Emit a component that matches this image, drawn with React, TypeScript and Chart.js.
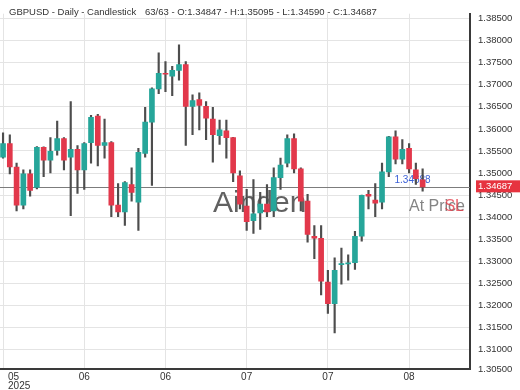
import React, { useEffect, useRef } from 'react';
import { Chart, registerables } from 'chart.js';

Chart.register(...registerables);

const opens = [
  1.35358, 1.35668, 1.35137, 1.34274, 1.34982, 1.34673, 1.3558, 1.35292, 1.35513, 1.35779,
  1.35358, 1.35535, 1.35071, 1.3569, 1.36288, 1.35624, 1.3569, 1.34274, 1.34119, 1.34739,
  1.34341, 1.35447, 1.36155, 1.36907, 1.37261, 1.37195, 1.37327, 1.3746, 1.36509, 1.36664,
  1.36509, 1.36221, 1.35845, 1.35956, 1.35801, 1.34938, 1.34252, 1.3392, 1.34097, 1.34296,
  1.34142, 1.34894, 1.35226, 1.35779, 1.35093, 1.34363, 1.33566, 1.33522, 1.32527, 1.3204,
  1.32925, 1.3294, 1.32969, 1.33566, 1.34518, 1.34385, 1.34341, 1.35027, 1.35823, 1.35314,
  1.35558, 1.35071, 1.34847,
];
const highs = [
  1.35911, 1.35867, 1.35226, 1.35071, 1.35071, 1.35602, 1.35595, 1.35801, 1.36177, 1.35801,
  1.36619, 1.35624, 1.3569, 1.3631, 1.36332, 1.36221, 1.35712, 1.34761, 1.34805, 1.35115,
  1.35558, 1.36487, 1.36929, 1.37726, 1.37527, 1.37416, 1.37903, 1.37527, 1.36774, 1.36819,
  1.36619, 1.36487, 1.36199, 1.36199, 1.3581, 1.35049, 1.34628, 1.3485, 1.34562, 1.34739,
  1.35115, 1.35336, 1.35867, 1.35889, 1.35115, 1.34518, 1.3381, 1.3381, 1.32792, 1.3308,
  1.33301, 1.33146, 1.33677, 1.345, 1.34606, 1.34761, 1.35226, 1.3583, 1.35956, 1.35757,
  1.35668, 1.35226, 1.35095,
];
const lows = [
  1.35336, 1.34982, 1.34142, 1.34186, 1.34473, 1.3464, 1.34916, 1.35004, 1.35403, 1.35071,
  1.34031, 1.3454, 1.34628, 1.35226, 1.35159, 1.35336, 1.34009, 1.34009, 1.3381, 1.34363,
  1.33699, 1.35358, 1.34717, 1.36796, 1.36841, 1.36752, 1.37106, 1.35624, 1.35867, 1.35978,
  1.35757, 1.35248, 1.35646, 1.35336, 1.34805, 1.34186, 1.33699, 1.33633, 1.33721, 1.34009,
  1.34009, 1.34628, 1.35137, 1.35004, 1.34142, 1.33434, 1.33058, 1.32239, 1.31819, 1.31376,
  1.32482, 1.32571, 1.32814, 1.33456, 1.34186, 1.34009, 1.34186, 1.34916, 1.35204, 1.35204,
  1.35004, 1.34739, 1.3459,
];
const closes = [
  1.35668, 1.35137, 1.34274, 1.34982, 1.34606, 1.3558, 1.35292, 1.35491, 1.35779, 1.35292,
  1.35535, 1.35071, 1.35668, 1.36265, 1.35624, 1.3569, 1.34274, 1.34119, 1.34783, 1.34562,
  1.35469, 1.36155, 1.36907, 1.37261, 1.37239, 1.37327, 1.3746, 1.36509, 1.36642, 1.36531,
  1.36243, 1.35867, 1.35978, 1.35801, 1.35004, 1.34296, 1.33898, 1.34075, 1.34296, 1.34119,
  1.34894, 1.35181, 1.35779, 1.35093, 1.34363, 1.33611, 1.33522, 1.32549, 1.3204, 1.32792,
  1.32947, 1.32955, 1.33566, 1.34496, 1.34473, 1.34319, 1.35027, 1.35823, 1.35314, 1.35535,
  1.35093, 1.34872, 1.34687,
];

const xTickIndex = [0, 12, 24, 36, 48, 60];
const xTickLabels = ['05', '06', '06', '07', '07', '08'];
const yearLabel = '2025';

const yMin = 1.30558;
const yMax = 1.38611;
const yTickValues = [
  yMin, 1.31, 1.315, 1.32, 1.325, 1.33, 1.335, 1.34, 1.345, 1.35, 1.355, 1.36, 1.365, 1.37,
  1.375, 1.38, 1.385,
];
const yTickLabels = [
  '1.30500', '1.31000', '1.31500', '1.32000', '1.32500', '1.33000', '1.33500', '1.34000',
  '1.34500', '1.35000', '1.35500', '1.36000', '1.36500', '1.37000', '1.37500', '1.38000',
  '1.38500',
];

const lastPrice = 1.34687;
const markerPrice = 1.34688;
const titleText = 'GBPUSD - Daily - Candlestick';
const infoText = '63/63 - O:1.34847 - H:1.35095 - L:1.34590 - C:1.34687';
const watermarkText = 'Ainden';
const atPriceText = 'At Price';
const slText = 'SL';

const UP = '#26a69a';
const DOWN = '#e2384b';
const WICK = '#4d4d4d';
const FONT = 'Arial, "Liberation Sans", Helvetica, sans-serif';

const overlayPlugin = {
  id: 'overlay',
  beforeDatasetsDraw(chart: any) {
    const { ctx, chartArea, scales } = chart;
    const py = Math.round(scales.y.getPixelForValue(lastPrice)) + 0.5;
    ctx.save();
    ctx.strokeStyle = '#7c7c7c';
    ctx.lineWidth = 1;
    ctx.beginPath();
    ctx.moveTo(chartArea.left, py);
    ctx.lineTo(chartArea.right, py);
    ctx.stroke();

    ctx.textBaseline = 'alphabetic';
    ctx.textAlign = 'left';
    ctx.font = `30px ${FONT}`;
    ctx.fillStyle = 'rgba(80,80,80,0.9)';
    ctx.fillText(watermarkText, chartArea.left + 213, chartArea.top + 198);

    ctx.font = `16px ${FONT}`;
    ctx.fillStyle = 'rgba(110,110,110,0.85)';
    ctx.fillText(atPriceText, chartArea.left + 409, chartArea.top + 197);
    ctx.textAlign = 'right';
    ctx.fillStyle = 'rgba(226,60,72,0.8)';
    ctx.fillText(slText, chartArea.left + 464, chartArea.top + 197);

    const lx = scales.x.getPixelForValue(opens.length - 1);
    ctx.font = `10px ${FONT}`;
    ctx.fillStyle = '#3a5fd6';
    ctx.textAlign = 'right';
    ctx.textBaseline = 'middle';
    ctx.fillText(markerPrice.toFixed(5), lx + 8, py - 7);
    ctx.restore();
  },
  afterDraw(chart: any) {
    const { ctx, chartArea, scales } = chart;
    ctx.save();
    ctx.font = `9.5px ${FONT}`;
    ctx.fillStyle = '#333';
    ctx.textBaseline = 'middle';
    ctx.textAlign = 'left';
    ctx.fillText(titleText, 9, 12);
    ctx.fillText(infoText, 145, 12);

    ctx.font = `10px ${FONT}`;
    xTickIndex.forEach((v, i) => {
      const x = scales.x.getPixelForValue(v);
      const y = chartArea.bottom + 8;
      if (i === 0) {
        ctx.textAlign = 'left';
        ctx.fillText(xTickLabels[i], x + 5, y);
        ctx.fillText(yearLabel, x + 5, y + 9);
      } else {
        ctx.textAlign = 'center';
        ctx.fillText(xTickLabels[i], x, y);
      }
    });

    const py = scales.y.getPixelForValue(lastPrice);
    ctx.fillStyle = '#e6333f';
    ctx.fillRect(chartArea.right + 6, py - 6.5, 60, 12);
    ctx.fillStyle = '#fff';
    ctx.textAlign = 'left';
    ctx.font = `9.5px ${FONT}`;
    ctx.fillText(lastPrice.toFixed(5), chartArea.right + 8, py - 0.5);
    ctx.restore();
  },
};

export default function App() {
  const ref = useRef<HTMLCanvasElement | null>(null);
  useEffect(() => {
    if (!ref.current) return;
    const idx = opens.map((_, i) => i);
    const bodyData = idx.map((i) => ({ x: i, y: [opens[i], closes[i]] }));
    const wickData = idx.map((i) => ({ x: i, y: [lows[i], highs[i]] }));
    const bodyColors = idx.map((i) => (closes[i] >= opens[i] ? UP : DOWN));
    const chart = new Chart(ref.current, {
      type: 'bar',
      data: {
        datasets: [
          {
            label: 'body',
            data: bodyData as any,
            backgroundColor: bodyColors,
            borderWidth: 0,
            barThickness: 5,
            maxBarThickness: 5,
            minBarLength: 1,
            grouped: false,
          } as any,
          {
            label: 'wick',
            data: wickData as any,
            backgroundColor: WICK,
            borderWidth: 0,
            barThickness: 1.5,
            maxBarThickness: 1.5,
            grouped: false,
          } as any,
        ],
      },
      plugins: [overlayPlugin],
      options: {
        animation: false,
        responsive: false,
        devicePixelRatio: 1,
        layout: { padding: { top: 5, left: 0, right: 0, bottom: 0 } },
        plugins: { legend: { display: false }, tooltip: { enabled: false } },
        scales: {
          x: {
            type: 'linear',
            offset: false,
            min: -0.45,
            max: 69,
            grid: { color: '#e4e4e4', drawTicks: false, offset: false },
            border: { color: '#3a3a3a', width: 2 },
            ticks: { display: false },
            afterBuildTicks: (scale: any) => {
              scale.ticks = xTickIndex.map((v) => ({ value: v }));
            },
            afterFit: (scale: any) => {
              scale.height = 21;
              scale.paddingLeft = 0;
              scale.paddingRight = 0;
            },
          },
          y: {
            type: 'linear',
            position: 'right',
            min: yMin,
            max: yMax,
            grid: { color: '#e4e4e4', drawTicks: false },
            border: { color: '#3a3a3a', width: 2 },
            ticks: {
              padding: 8,
              color: '#333',
              font: { size: 9.5, family: FONT },
              callback: (_v: any, i: number) => yTickLabels[i],
            },
            afterBuildTicks: (scale: any) => {
              scale.ticks = yTickValues.map((v) => ({ value: v }));
            },
            afterFit: (scale: any) => {
              scale.width = 50;
            },
          },
        },
      } as any,
    });
    return () => chart.destroy();
  }, []);
  return (
    <div style={{ position: 'fixed', left: 0, top: 0, width: 520, height: 390, background: '#fff' }}>
      <canvas ref={ref} width={520} height={390} style={{ display: 'block' }} />
    </div>
  );
}
